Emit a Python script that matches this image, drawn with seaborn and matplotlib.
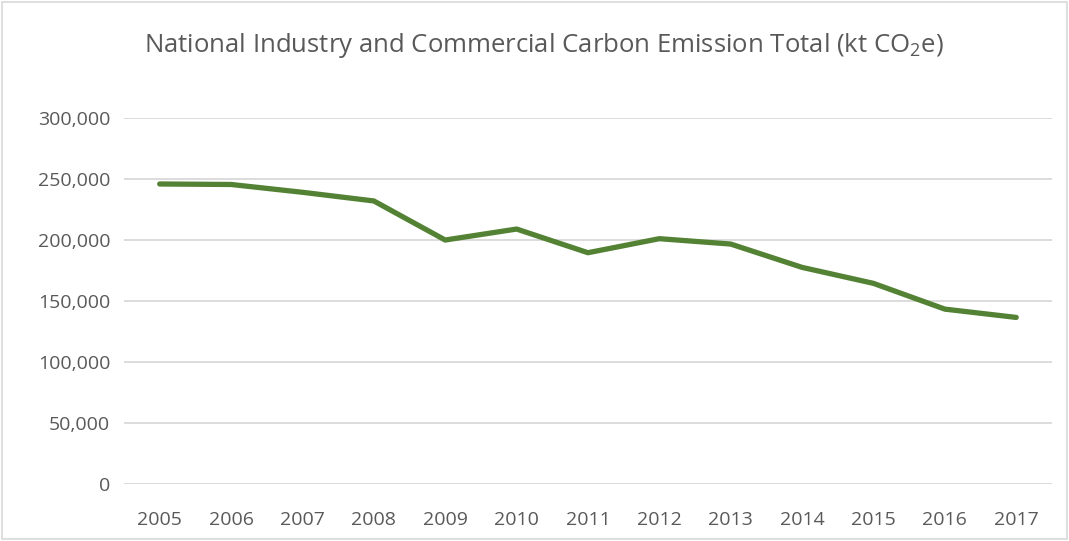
import numpy as np
import pandas as pd
import seaborn as sns
import matplotlib.pyplot as plt
from matplotlib.ticker import FuncFormatter
from matplotlib.patches import Rectangle

years = ['2005', '2006', '2007', '2008', '2009', '2010', '2011',
         '2012', '2013', '2014', '2015', '2016', '2017']
emissions = [245900, 245500, 239100, 232000, 200000, 209000, 189600,
             201100, 196700, 177600, 164500, 143400, 136600]

df = pd.DataFrame({'year': years, 'emissions': emissions})

sns.set_theme(style='white')
plt.rcParams['font.family'] = ['Open Sans', 'DejaVu Sans']
plt.rcParams['mathtext.default'] = 'regular'

text_color = '#595959'
fig = plt.figure(figsize=(10.69, 5.41), dpi=100)
ax = fig.add_axes([0.116, 0.105, 0.868, 0.677])

sns.lineplot(data=df, x='year', y='emissions', color='#548235',
             linewidth=3.8, sort=False, ax=ax, solid_capstyle='round')

ax.set_xlim(-0.5, len(years) - 0.5)
ax.set_ylim(0, 300000)
ax.set_yticks(np.arange(0, 300001, 50000))
ax.yaxis.set_major_formatter(FuncFormatter(lambda v, p: f'{int(v):,}'))
ax.grid(axis='y', color='#d9d9d9', linewidth=1.3)
ax.set_axisbelow(True)
for s in ax.spines.values():
    s.set_visible(False)
ax.tick_params(axis='both', colors=text_color, labelsize=14, length=0)
ax.tick_params(axis='x', pad=19)
ax.tick_params(axis='y', pad=10)
ax.set_xlabel('')
ax.set_ylabel('')

fig.text(0.509, 0.915, 'National Industry and Commercial Carbon Emission Total (kt CO$_2$e)',
         ha='center', va='center', fontsize=18.5, color=text_color)

fig.patches.append(Rectangle((0.002, 0.004), 0.996, 0.992, transform=fig.transFigure,
                             fill=False, edgecolor='#d9d9d9', linewidth=1.2))

fig.savefig('out.png', dpi=100)
